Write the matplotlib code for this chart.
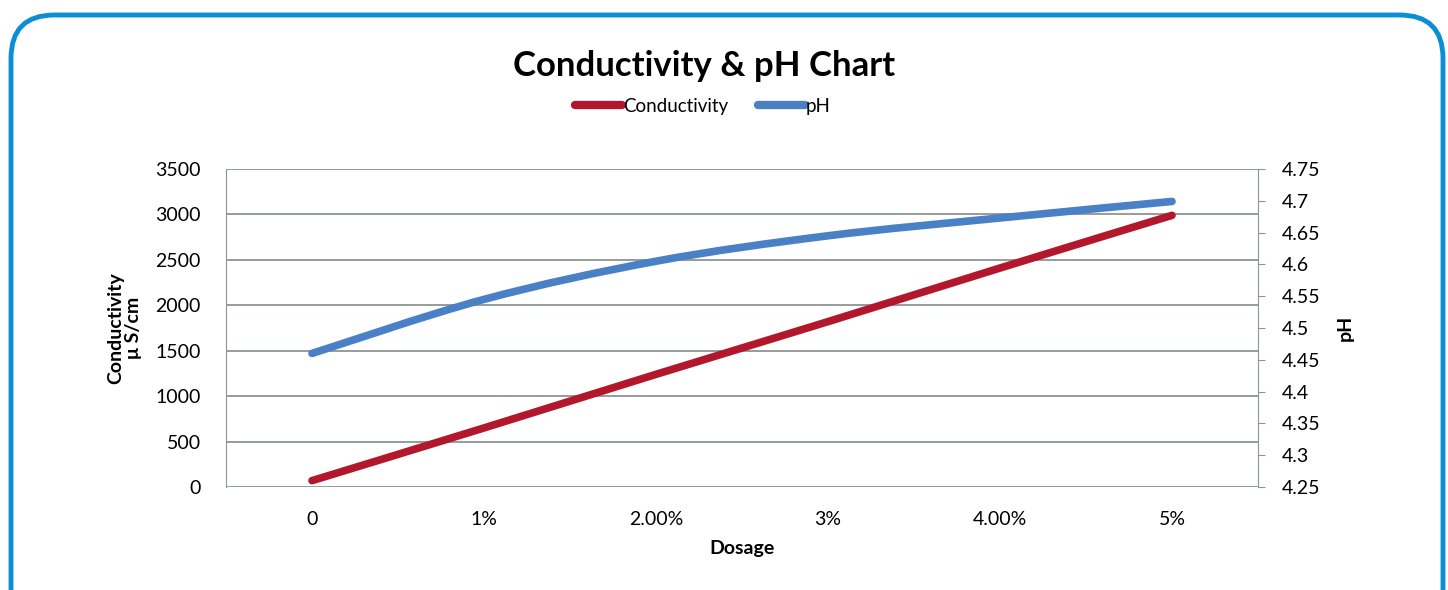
#! /usr/bin/env python

import numpy as np
import matplotlib
matplotlib.use('Agg')
import matplotlib.pyplot as plt
from matplotlib.path import Path
from matplotlib.patches import PathPatch, FancyBboxPatch
from matplotlib.lines import Line2D

plt.rcParams['font.family'] = ['Lato', 'DejaVu Sans']

dosage = ['0', '1%', '2.00%', '3%', '4.00%', '5%']
conductivity = [70, 650, 1240, 1820, 2410, 2990]
ph = [4.46, 4.545, 4.605, 4.645, 4.673, 4.699]

red = '#B3172B'
blue = '#4A80C6'
grid_col = '#8E9494'


def smooth_path(xs, ys):
    # excel-like smoothed line: catmull-rom turned into cubic beziers
    pts = np.column_stack([xs, ys]).astype(float)
    verts = [pts[0]]
    codes = [Path.MOVETO]
    n = len(pts)
    for i in range(n - 1):
        p0 = pts[max(i - 1, 0)]
        p1 = pts[i]
        p2 = pts[i + 1]
        p3 = pts[min(i + 2, n - 1)]
        c1 = p1 + (p2 - p0) / 6.0
        c2 = p2 - (p3 - p1) / 6.0
        verts += [c1, c2, p2]
        codes += [Path.CURVE4] * 3
    return Path(verts, codes)


fig = plt.figure(figsize=(14.48, 5.90), dpi=100)

# rounded blue frame round the whole chart
frame = FancyBboxPatch((11 / 1448, -0.2), 1432 / 1448, 0.2 + 1 - 15 / 590,
                       boxstyle='round,pad=0,rounding_size=0.03',
                       transform=fig.transFigure, fill=False,
                       edgecolor='#0A8FD5', linewidth=3.5, mutation_aspect=2.45)
fig.patches.append(frame)

ax = fig.add_axes([226 / 1448, 1 - 487 / 590, 1032 / 1448, 318 / 590])
ax2 = ax.twinx()

x = np.arange(len(dosage))

ax.set_xlim(-0.5, len(dosage) - 0.5)
ax.set_ylim(0, 3500)
ax.set_yticks(np.arange(0, 3501, 500))
ax2.set_ylim(4.25, 4.75)
ax2.set_yticks(np.arange(4.25, 4.751, 0.05))
ax2.set_yticklabels(['%g' % round(v, 2) for v in np.arange(4.25, 4.751, 0.05)])

ax.set_xticks(x)
ax.set_xticklabels(dosage)
ax.grid(axis='y', color=grid_col, linewidth=1.3)
ax.set_axisbelow(True)

for a in (ax, ax2):
    for s in a.spines.values():
        s.set_visible(False)
ax.spines['left'].set_visible(True)
ax.spines['left'].set_color(grid_col)
ax2.spines['right'].set_visible(True)
ax2.spines['right'].set_color(grid_col)

ax.tick_params(axis='both', length=0, labelsize=14, pad=18)
ax.tick_params(axis='x', pad=17)
ax2.tick_params(axis='y', direction='out', length=5, color=grid_col,
                labelsize=14, pad=12)

ax2.add_patch(PathPatch(smooth_path(x, ph), fill=False, edgecolor=blue,
                        linewidth=5.5, capstyle='round', zorder=3))
ax2.add_patch(PathPatch(smooth_path(x, conductivity), fill=False,
                        edgecolor=red, linewidth=5.5, capstyle='round',
                        zorder=3, transform=ax.transData))

ax.set_ylabel('Conductivity\nμ S/cm', fontsize=14, fontweight='bold',
              linespacing=1.0, labelpad=10)
ax2.set_ylabel('pH', fontsize=14, fontweight='bold', labelpad=12)
ax.set_xlabel('Dosage', fontsize=14, fontweight='bold', labelpad=9)

fig.text(0.486, 1 - 66 / 590, 'Conductivity & pH Chart', ha='center',
         va='center', fontsize=25, fontweight='bold')

handles = [Line2D([], [], color=red, linewidth=6, solid_capstyle='round'),
           Line2D([], [], color=blue, linewidth=6, solid_capstyle='round')]
fig.legend(handles, ['Conductivity', 'pH'], loc='center',
           bbox_to_anchor=(703 / 1448, 1 - 106 / 590), ncol=2, frameon=False,
           fontsize=13.5, handlelength=2.5, handletextpad=0.05,
           columnspacing=1.6)

fig.savefig('out.png', dpi=100)
